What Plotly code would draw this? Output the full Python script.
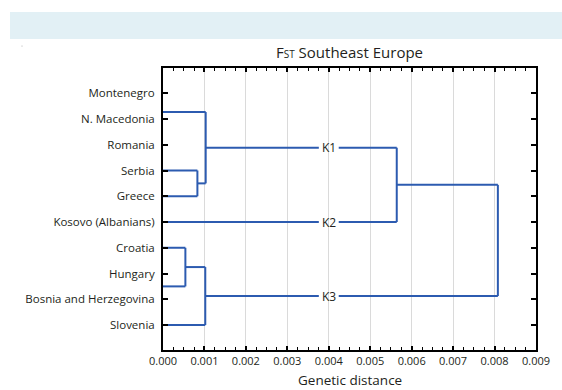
import plotly.graph_objects as go

# ---------------- data ----------------
countries = ["Montenegro", "N. Macedonia", "Romania", "Serbia", "Greece",
             "Kosovo (Albanians)", "Croatia", "Hungary",
             "Bosnia and Herzegovina", "Slovenia"]

# row positions (in category units) where each drawn leaf branch attaches
leaf_names = ["N. Macedonia", "Serbia", "Greece", "Kosovo (Albanians)",
              "Croatia", "Hungary", "Slovenia"]
leaf_rows = [0.73, 3.0, 4.0, 5.0, 6.0, 7.5, 9.0]

# merges: (left child, right child, genetic distance at the merge)
merge_left = ["Serbia", "N. Macedonia", "Croatia", "m2", "m1", "m4"]
merge_right = ["Greece", "m0", "Hungary", "Slovenia", "Kosovo (Albanians)", "m3"]
merge_height = [0.00083, 0.00103, 0.00054, 0.00102, 0.00564, 0.00808]

# cluster labels: node whose branch carries the label, label text, x-position of label
cluster_nodes = ["m1", "Kosovo (Albanians)", "m3"]
cluster_labels = ["K1", "K2", "K3"]
cluster_label_x = 0.004

x_ticks = [0.000, 0.001, 0.002, 0.003, 0.004, 0.005, 0.006, 0.007, 0.008, 0.009]

# ---------------- build dendrogram geometry ----------------
node_y = dict(zip(leaf_names, leaf_rows))
node_x = {n: 0.0 for n in leaf_names}
parent_h = {}
for i, (a, b, h) in enumerate(zip(merge_left, merge_right, merge_height)):
    name = f"m{i}"
    node_y[name] = (node_y[a] + node_y[b]) / 2
    node_x[name] = h
    parent_h[a] = h
    parent_h[b] = h

GAP = 0.00024  # half-width of the gap left in a branch for its label
xs, ys = [], []
label_of = dict(zip(cluster_nodes, cluster_labels))
for n, h in parent_h.items():
    x0, y0 = node_x[n], node_y[n]
    if n in label_of:
        xs += [x0, cluster_label_x - GAP, None, cluster_label_x + GAP, h, None]
        ys += [y0, y0, None, y0, y0, None]
    else:
        xs += [x0, h, None]
        ys += [y0, y0, None]
for i, (a, b, h) in enumerate(zip(merge_left, merge_right, merge_height)):
    xs += [h, h, None]
    ys += [node_y[a], node_y[b], None]

LINE = "#2c5bb0"
TXT = "#231f20"
FONT = "Open Sans"

W, H = 562, 390
ML, MR, MT, MB = 163, 26, 68, 40
PW, PH = W - ML - MR, H - MT - MB
PB = H - MB  # plot bottom in pixels


def px_x(p):
    return (p - ML) / PW


def px_y(p):
    return (PB - p) / PH


fig = go.Figure()
fig.add_trace(go.Scatter(x=xs, y=ys, mode="lines",
                         line=dict(color=LINE, width=2),
                         hoverinfo="skip", showlegend=False))

for n, lab in zip(cluster_nodes, cluster_labels):
    fig.add_annotation(x=cluster_label_x, y=node_y[n], text=lab, showarrow=False,
                       xanchor="center", yanchor="middle",
                       font=dict(family=FONT, size=12, color=TXT))

# x-axis title as an annotation just below the tick labels
fig.add_annotation(xref="paper", yref="paper", x=0.5, y=px_y(380),
                   text="Genetic distance", showarrow=False, borderpad=0,
                   xanchor="center", yanchor="middle",
                   font=dict(family=FONT, size=13.5, color=TXT))

fig.update_layout(
    width=W, height=H,
    margin=dict(l=ML, r=MR, t=MT, b=MB),
    paper_bgcolor="white", plot_bgcolor="white",
    font=dict(family=FONT, size=11.5, color=TXT),
    title=dict(text="F<span style='font-size:10px'>ST</span> Southeast Europe",
               x=(ML + W - MR) / 2 / W, xanchor="center",
               y=1 - 53 / H, yanchor="middle",
               font=dict(family=FONT, size=15, color=TXT)),
    showlegend=False,
)

fig.update_xaxes(
    range=[0, 0.009], tickvals=x_ticks,
    ticktext=[f"{v:.3f}" for v in x_ticks],
    showgrid=True, gridcolor="#dadada", gridwidth=1,
    showline=True, linecolor="black", linewidth=2, mirror="allticks",
    ticks="inside", ticklen=4, tickwidth=1.5, tickcolor="black",
    minor=dict(ticks="inside", ticklen=3, tickwidth=1, tickcolor="black",
               dtick=0.00025, showgrid=False),
    zeroline=False, automargin=False,
    tickfont=dict(family=FONT, size=11, color=TXT),
)

fig.update_yaxes(
    range=[9.97, -0.98], tickvals=list(range(len(countries))), ticktext=countries,
    showgrid=False, zeroline=False, automargin=False,
    showline=True, linecolor="black", linewidth=2, mirror="allticks",
    ticks="inside", ticklen=5, tickwidth=2, tickcolor="black",
    tickfont=dict(family=FONT, size=11.5, color=TXT),
    ticklabelstandoff=4,
)

# light-blue band at top of the page and tiny stray dot
fig.add_shape(type="rect", xref="paper", yref="paper",
              x0=px_x(10), x1=px_x(575),
              y0=px_y(39), y1=px_y(12),
              fillcolor="#e2f0f5", line=dict(width=0), layer="below")
fig.add_shape(type="circle", xref="paper", yref="paper",
              x0=px_x(21.5), x1=px_x(22.5),
              y0=px_y(46.5), y1=px_y(45.5),
              fillcolor="#999999", line=dict(width=0))

fig.write_html("out.html",
               config={"displayModeBar": False},
               post_script="document.body.style.margin='0';document.body.style.padding='0';")
